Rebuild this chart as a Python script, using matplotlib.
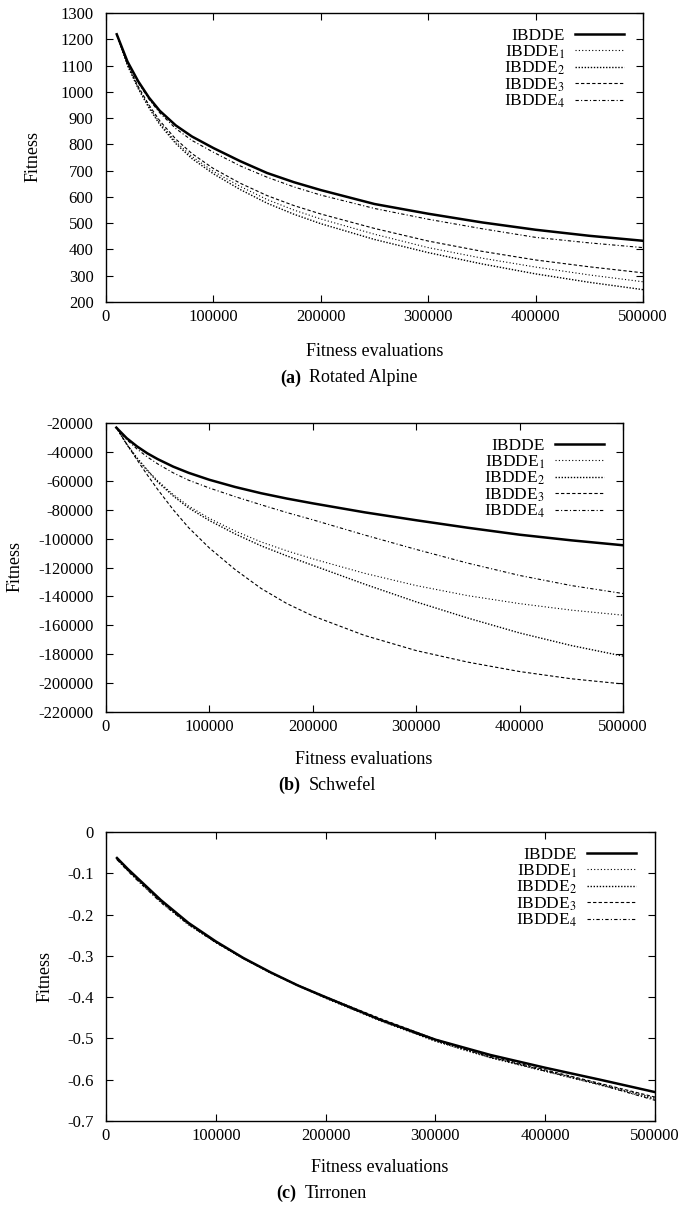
import numpy as np
import matplotlib
matplotlib.use("Agg")
import matplotlib.pyplot as plt

plt.rcParams['font.family'] = ['Liberation Serif', 'DejaVu Serif']
plt.rcParams['mathtext.fontset'] = 'stix'
plt.rcParams['axes.unicode_minus'] = False

series_names = ['IBDDE', 'IBDDE$_1$', 'IBDDE$_2$', 'IBDDE$_3$', 'IBDDE$_4$']

# evaluations (thousands) for panels (a) and (b)
evals_ab = [10, 20, 30, 40, 50, 65, 80, 100, 125, 150, 175, 200, 250, 300, 350, 400, 450, 500]

# (a) Rotated Alpine
alpine_ibdde = [1219, 1115, 1040, 978, 928, 872, 830, 786, 736, 691, 656, 626, 573, 536, 503, 475, 452, 433]
alpine_ibdde1 = [1219, 1103, 1016, 944, 882, 810, 754, 697, 640, 590, 550, 516, 458, 407, 367, 333, 303, 277]
alpine_ibdde2 = [1219, 1100, 1012, 939, 876, 803, 746, 688, 628, 576, 534, 498, 438, 388, 345, 307, 275, 247]
alpine_ibdde3 = [1219, 1105, 1020, 950, 890, 820, 765, 708, 652, 605, 567, 535, 480, 432, 393, 360, 334, 311]
alpine_ibdde4 = [1219, 1112, 1035, 972, 920, 860, 815, 770, 718, 675, 638, 607, 556, 515, 479, 446, 425, 407]

# (b) Schwefel
schwefel_ibdde = [-23200, -30500, -36200, -41000, -45000, -50200, -54500, -59300, -64300, -68600,
                  -72300, -75600, -81800, -87300, -92500, -97300, -101200, -104600]
schwefel_ibdde1 = [-23200, -34500, -44000, -52500, -60000, -69500, -77500, -86000, -94800, -102300,
                   -108500, -114000, -124000, -132500, -139500, -145000, -149500, -153000]
schwefel_ibdde2 = [-23200, -34800, -44500, -53000, -60800, -70500, -78800, -87500, -96800, -105000,
                   -112000, -118500, -131500, -143800, -155000, -165300, -174000, -181300]
schwefel_ibdde3 = [-23200, -34500, -45500, -56000, -66000, -80000, -92500, -106500, -121500, -134500,
                   -145000, -153500, -167000, -177500, -185500, -192000, -197000, -200600]
schwefel_ibdde4 = [-23200, -31500, -38000, -43500, -48300, -54500, -59600, -65000, -71000, -76600,
                   -82000, -87000, -97500, -107500, -117000, -125500, -132500, -138000]

# (c) Tirronen
evals_c = [10, 20, 30, 50, 75, 100, 125, 150, 175, 200, 250, 300, 350, 400, 450, 500]
tirronen_ibdde = [-0.063, -0.090, -0.115, -0.165, -0.220, -0.265, -0.305, -0.340, -0.372, -0.400,
                  -0.455, -0.503, -0.540, -0.571, -0.600, -0.630]
tirronen_ibdde1 = [-0.066, -0.094, -0.120, -0.170, -0.225, -0.268, -0.307, -0.342, -0.373, -0.403,
                   -0.458, -0.507, -0.547, -0.580, -0.613, -0.648]
tirronen_ibdde2 = [-0.065, -0.093, -0.118, -0.168, -0.222, -0.266, -0.306, -0.341, -0.372, -0.401,
                   -0.456, -0.506, -0.546, -0.578, -0.611, -0.645]
tirronen_ibdde3 = [-0.064, -0.091, -0.117, -0.167, -0.221, -0.267, -0.306, -0.340, -0.371, -0.399,
                   -0.452, -0.502, -0.543, -0.576, -0.609, -0.642]
tirronen_ibdde4 = [-0.067, -0.095, -0.121, -0.171, -0.224, -0.268, -0.306, -0.341, -0.372, -0.402,
                   -0.456, -0.505, -0.545, -0.579, -0.612, -0.650]

x_ticks = [0, 100000, 200000, 300000, 400000, 500000]
x_ticklabels = ['0', '100000', '200000', '300000', '400000', '500000']
alpine_yticks = list(range(200, 1301, 100))
schwefel_yticks = list(range(-220000, -19999, 20000))
tirronen_yticks = [0, -0.1, -0.2, -0.3, -0.4, -0.5, -0.6, -0.7]
tirronen_yticklabels = ['0', '-0.1', '-0.2', '-0.3', '-0.4', '-0.5', '-0.6', '-0.7']

styles = [
    dict(linestyle='-', linewidth=1.8),
    dict(linestyle=(0, (1, 2)), linewidth=0.8),
    dict(linestyle=(0, (1, 1.2)), linewidth=1.0),
    dict(linestyle=(0, (3, 2)), linewidth=0.8),
    dict(linestyle=(0, (3, 2, 1, 2)), linewidth=0.8),
]

W, H = 684, 1214
fig = plt.figure(figsize=(W / 100, H / 100), dpi=100)


def px_axes(left, right, top, bottom):
    return fig.add_axes([left / W, 1 - bottom / H, (right - left) / W, (bottom - top) / H])


def draw_panel(ax, xs, ys_list, yticks, ylim, yticklabels=None):
    xs = np.array(xs) * 1000
    for ys, name, st in zip(ys_list, series_names, styles):
        ax.plot(xs, ys, color='black', label=name, **st)
    ax.set_xlim(0, 500000)
    ax.set_ylim(*ylim)
    ax.set_xticks(x_ticks)
    ax.set_xticklabels(x_ticklabels)
    ax.set_yticks(yticks)
    if yticklabels is not None:
        ax.set_yticklabels(yticklabels)
    else:
        ax.set_yticklabels([str(v) for v in yticks])
    ax.tick_params(direction='in', length=5, width=0.8, top=True, right=True,
                   labelsize=12)
    ax.tick_params(axis='y', pad=9)
    ax.tick_params(axis='x', pad=5)
    for sp in ax.spines.values():
        sp.set_linewidth(1.0)
    leg = ax.legend(loc='upper right', frameon=False, markerfirst=False,
                    fontsize=12.5, handlelength=2.8, handletextpad=0.6,
                    labelspacing=-0.05, borderpad=0, borderaxespad=0,
                    bbox_to_anchor=(1 - 19 / ax.bbox.width, 1 - 15 / ax.bbox.height))
    return leg


# (a)
ax_a = px_axes(106, 643, 13, 302)
draw_panel(ax_a, evals_ab,
           [alpine_ibdde, alpine_ibdde1, alpine_ibdde2, alpine_ibdde3, alpine_ibdde4],
           alpine_yticks, (200, 1300))

# (b)
ax_b = px_axes(106, 623, 423, 712)
draw_panel(ax_b, evals_ab,
           [schwefel_ibdde, schwefel_ibdde1, schwefel_ibdde2, schwefel_ibdde3, schwefel_ibdde4],
           schwefel_yticks, (-220000, -20000))

# (c)
ax_c = px_axes(106, 655, 832, 1121)
draw_panel(ax_c, evals_c,
           [tirronen_ibdde, tirronen_ibdde1, tirronen_ibdde2, tirronen_ibdde3, tirronen_ibdde4],
           tirronen_yticks, (-0.7, 0), tirronen_yticklabels)


def ftext(x, y, s, **kw):
    fig.text(x / W, 1 - y / H, s, **kw)


# axis labels and captions
ftext(375, 352, 'Fitness evaluations', ha='center', va='center', fontsize=13)
ftext(33, 157, 'Fitness', ha='center', va='center', rotation=90, fontsize=13)
ftext(301, 378, '(a)', ha='right', va='center', fontsize=13, fontweight='bold')
ftext(309, 378, 'Rotated Alpine', ha='left', va='center', fontsize=13)

ftext(364, 760, 'Fitness evaluations', ha='center', va='center', fontsize=13)
ftext(15, 567, 'Fitness', ha='center', va='center', rotation=90, fontsize=13)
ftext(300, 785, '(b)', ha='right', va='center', fontsize=13, fontweight='bold')
ftext(309, 785, 'Schwefel', ha='left', va='center', fontsize=13)

ftext(380, 1168, 'Fitness evaluations', ha='center', va='center', fontsize=13)
ftext(45, 977, 'Fitness', ha='center', va='center', rotation=90, fontsize=13)
ftext(296, 1193, '(c)', ha='right', va='center', fontsize=13, fontweight='bold')
ftext(305, 1193, 'Tirronen', ha='left', va='center', fontsize=13)

fig.savefig('out.png', dpi=100)
